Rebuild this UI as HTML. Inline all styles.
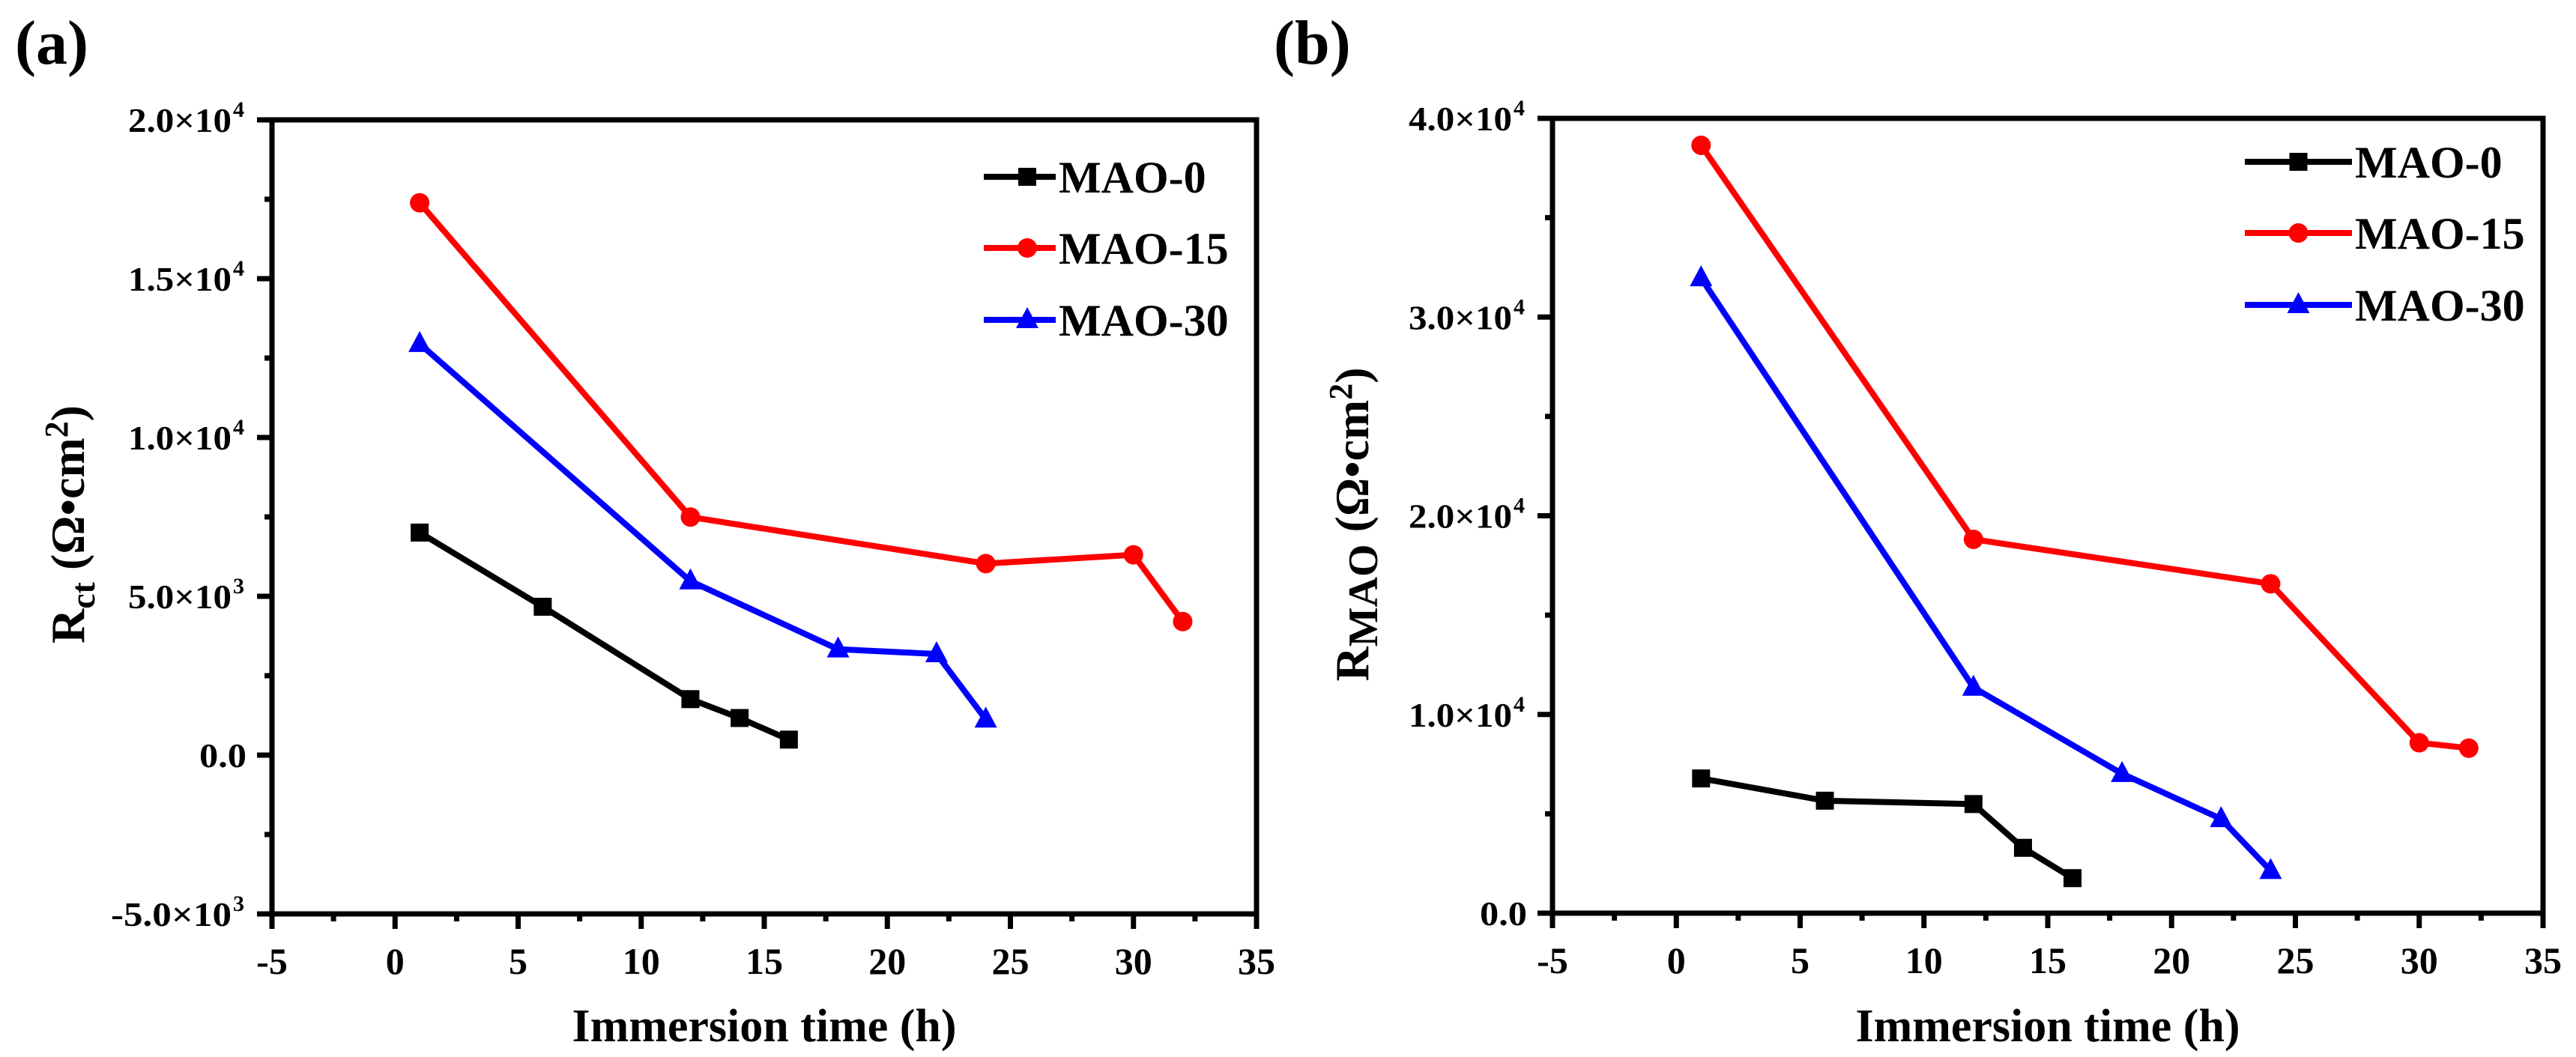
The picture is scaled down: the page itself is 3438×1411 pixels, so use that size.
<!DOCTYPE html>
<html><head><meta charset="utf-8"><style>
html,body{margin:0;padding:0;background:#fff}
svg{display:block}
text{font-family:"Liberation Serif","Times New Roman",serif;font-weight:bold;fill:#000}
</style></head><body>
<svg id="fig" width="3438" height="1411" viewBox="0 0 3438 1411" xmlns="http://www.w3.org/2000/svg"></svg>
<script>
const xTicks=[-5,0,5,10,15,20,25,30,35];
const seriesNames=["MAO-0","MAO-15","MAO-30"];
const seriesColors=["#000000","#ff0000","#0000ff"];
const seriesMarkers=["square","circle","triangle"];
// Panel (a) Rct
const aX0=[1,6,12,14,16];
const aY0=[7006,4671,1762,1168,488];
const aX15=[1,12,24,30,32];
const aY15=[17389,7495,6030,6306,4204];
const aX30=[1,12,18,22,24];
const aY30=[12951,5478,3333,3185,1125];
const aYTicks=[-5000,0,5000,10000,15000,20000];
const aYTickLabels=[["-5.0×10","3"],["0.0",""],["5.0×10","3"],["1.0×10","4"],["1.5×10","4"],["2.0×10","4"]];
// Panel (b) RMAO
const bX0=[1,6,12,14,16];
const bY0=[6780,5661,5492,3288,1763];
const bX15=[1,12,24,30,32];
const bY15=[38644,18814,16576,8576,8305];
const bX30=[1,12,18,22,24];
const bY30=[31966,11356,7017,4746,2136];
const bYTicks=[0,10000,20000,30000,40000];
const bYTickLabels=[["0.0",""],["1.0×10","4"],["2.0×10","4"],["3.0×10","4"],["4.0×10","4"]];

const NS="http://www.w3.org/2000/svg";
const FF='"Liberation Serif","Times New Roman",serif';
const svg=document.getElementById('fig');
function mk(tag,attrs,parent){const e=document.createElementNS(NS,tag);for(const k in attrs)e.setAttribute(k,attrs[k]);if(tag==='text'){e.setAttribute('font-family',FF);e.setAttribute('font-weight','bold');}(parent||svg).appendChild(e);return e;}

function panel(cfg){
  const g=mk('g',{});
  
  
  const L=cfg.left,R=cfg.right,T=cfg.top,B=cfg.bottom;
  const sx=v=>L+(v-(-5))/(40)*(R-L);
  const sy=v=>B-(v-cfg.ymin)/(cfg.ymax-cfg.ymin)*(B-T);
  const data=cfg.series;
  data.forEach((s,i)=>{
    const sg=mk('g',{},g);
    
    
    const pts=s.x.map((x,j)=>sx(x)+','+sy(s.y[j])).join(' ');
    const pl=mk('polyline',{points:pts,fill:'none',stroke:seriesColors[i],'stroke-width':8,'stroke-linejoin':'round'},sg);
    
    
    s.x.forEach((x,j)=>{
      const m=marker(seriesMarkers[i],sx(x),sy(s.y[j]),seriesColors[i],sg);
      
      
    });
  });
  const fr=mk('rect',{x:L,y:T,width:R-L,height:B-T,fill:'none',stroke:'#000','stroke-width':7},g);
  
  
  xTicks.forEach((v,i)=>{
    const x=sx(v);
    mk('line',{x1:x,x2:x,y1:B,y2:B+20,stroke:'#000','stroke-width':7},g);
    const t=mk('text',{x:x,y:B+80,'font-size':50,'text-anchor':'middle'},g);
    t.textContent=String(v);
    
    
    if(i<xTicks.length-1){const xm=sx(v+2.5);mk('line',{x1:xm,x2:xm,y1:B,y2:B+10,stroke:'#000','stroke-width':7},g);}
  });
  cfg.yTicks.forEach((v,i)=>{
    const y=sy(v);
    mk('line',{x1:L-20,x2:L,y1:y,y2:y,stroke:'#000','stroke-width':7},g);
    const lab=cfg.yLabels[i];
    const t=mk('text',{x:L-(lab[1]?54:34),y:y+16,'font-size':46,'text-anchor':'end',textLength:lab[1]?(lab[0].length*23):(lab[0].length*21),lengthAdjust:'spacingAndGlyphs'},g);
    t.textContent=lab[0];
    
    
    if(lab[1]){const s=mk('text',{x:L-52,y:y-4,'font-size':30},g);s.textContent=lab[1];}
    if(i<cfg.yTicks.length-1){const ym=sy(v+(cfg.yTicks[1]-cfg.yTicks[0])/2);mk('line',{x1:L-10,x2:L,y1:ym,y2:ym,stroke:'#000','stroke-width':7},g);}
  });
  const xt=mk('text',{x:(L+R)/2,y:1390,'font-size':62,'text-anchor':'middle'},g);
  xt.textContent='Immersion time (h)';
  
  
  const yt=mk('text',{x:0,y:0,'font-size':64,'text-anchor':'middle',transform:`translate(${cfg.ytx},${cfg.yty}) rotate(-90)`},g);
  yt.innerHTML=cfg.ytitle;
  
  
  const pl=mk('text',{x:cfg.plx,y:85,'font-size':84},g);
  pl.textContent=cfg.label;
  
  
  const lg=mk('g',{},g);
  
  
  seriesNames.forEach((n,i)=>{
    const y=cfg.legY[i];
    const e=mk('g',{},lg);
    
    
    mk('line',{x1:cfg.legX1,x2:cfg.legX2,y1:y,y2:y,stroke:seriesColors[i],'stroke-width':8},e);
    marker(seriesMarkers[i],(cfg.legX1+cfg.legX2)/2+cfg.legMOff,y,seriesColors[i],e);
    const t=mk('text',{x:cfg.legX2+4,y:y+21,'font-size':60},e);
    t.textContent=n;
  });
}
function marker(type,x,y,c,parent){
  if(type==='square')return mk('rect',{x:x-12,y:y-12,width:24,height:24,fill:c},parent);
  if(type==='circle')return mk('circle',{cx:x,cy:y,r:13,fill:c},parent);
  return mk('polygon',{points:`${x},${y-17} ${x-15},${y+11} ${x+15},${y+11}`,fill:c},parent);
}
panel({id:'a',left:363,right:1677,top:160,bottom:1220,ymin:-5000,ymax:20000,
  series:[{x:aX0,y:aY0},{x:aX15,y:aY15},{x:aX30,y:aY30}],
  yTicks:aYTicks,yLabels:aYTickLabels,
  ytitle:'R<tspan font-size="46" dy="14">ct</tspan><tspan dy="-14"> (Ω•cm</tspan><tspan font-size="44" dy="-22">2</tspan><tspan dy="22">)</tspan>',
  ytx:112,yty:700,label:'(a)',plx:20,
  legY:[236,331,427],legX1:1313,legX2:1409,legMOff:10});
panel({id:'b',left:2072,right:3394,top:158,bottom:1219,ymin:0,ymax:40000,
  series:[{x:bX0,y:bY0},{x:bX15,y:bY15},{x:bX30,y:bY30}],
  yTicks:bYTicks,yLabels:bYTickLabels,
  ytitle:'R<tspan font-size="56" dy="12">MAO</tspan><tspan dy="-12"> (Ω•cm</tspan><tspan font-size="44" dy="-22">2</tspan><tspan dy="22">)</tspan>',
  ytx:1826,yty:700,label:'(b)',plx:1700,
  legY:[216,311,407],legX1:2996,legX2:3139,legMOff:0});
</script>
</body></html>
